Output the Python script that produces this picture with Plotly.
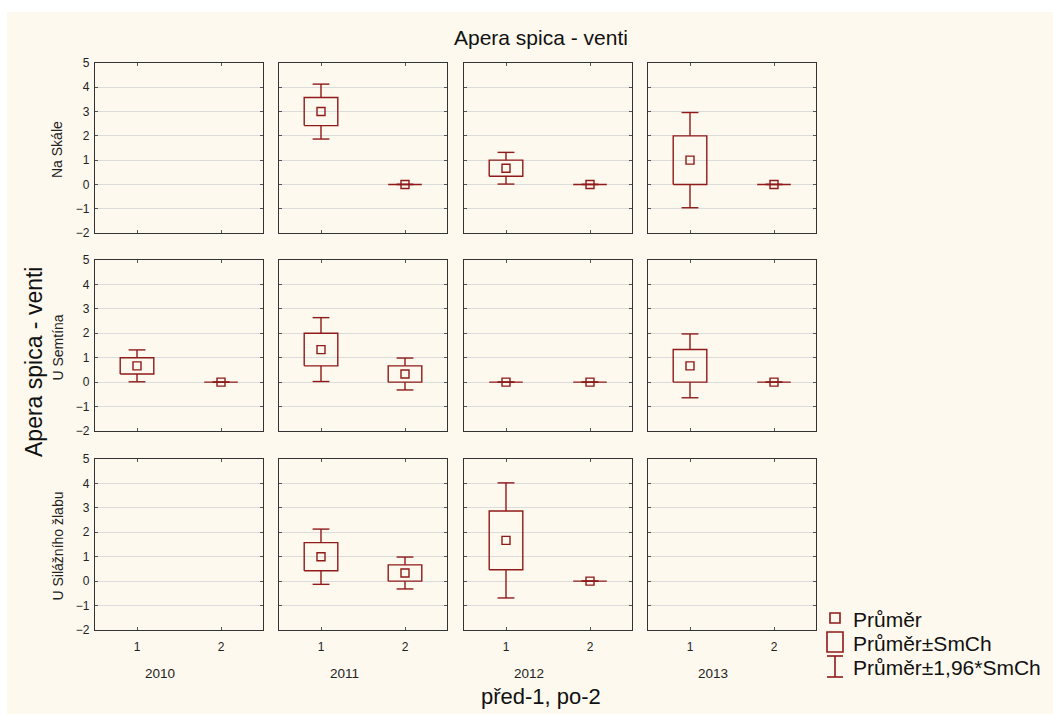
import plotly.graph_objects as go

# Group means and standard errors (SmCh) for each site, year and before/after (1/2)
sites = ["Na Skále", "U Semtína", "U Silážního žlabu"]
years = ["2010", "2011", "2012", "2013"]
periods = [1, 2]
period_labels = ["1", "2"]
y_ticks = [-2, -1, 0, 1, 2, 3, 4, 5]

mean_na_skale = [[None, None], [3.0, 0.0], [0.667, 0.0], [1.0, 0.0]]
se_na_skale = [[None, None], [0.577, 0.0], [0.333, 0.0], [1.0, 0.0]]

mean_u_semtina = [[0.667, 0.0], [1.333, 0.333], [0.0, 0.0], [0.667, 0.0]]
se_u_semtina = [[0.333, 0.0], [0.667, 0.333], [0.0, 0.0], [0.667, 0.0]]

mean_u_silazniho = [[None, None], [1.0, 0.333], [1.667, 0.0], [None, None]]
se_u_silazniho = [[None, None], [0.577, 0.333], [1.202, 0.0], [None, None]]

means = [mean_na_skale, mean_u_semtina, mean_u_silazniho]
ses = [se_na_skale, se_u_semtina, se_u_silazniho]

W, H = 1053, 714
RED = "#8E1A1A"
BG = "#FEF9EE"
FONT = "Liberation Sans, Arial, sans-serif"
TICK_SIZE = 12

# panel edges in pixels
col_px = [(95, 263), (279, 447), (464, 632), (648, 816)]
row_px = [(63, 233), (260, 431), (459, 630)]


def px_x(x):
    return x / W


def px_y(y):
    return 1 - y / H


fig = go.Figure()
layout = dict(
    width=W, height=H,
    margin=dict(l=0, r=0, t=0, b=0, autoexpand=False),
    paper_bgcolor="white",
    plot_bgcolor="white",
    showlegend=False,
    font=dict(family=FONT, color="#222", size=TICK_SIZE),
)

box_hw = 0.2
cap_hw = 0.1

k = 0
for r, site in enumerate(sites):
    for c, year in enumerate(years):
        k += 1
        xa = "x" if k == 1 else f"x{k}"
        ya = "y" if k == 1 else f"y{k}"
        xkey = "xaxis" if k == 1 else f"xaxis{k}"
        ykey = "yaxis" if k == 1 else f"yaxis{k}"
        x0, x1 = col_px[c]
        y0, y1 = row_px[r]
        layout[xkey] = dict(
            domain=[px_x(x0), px_x(x1)], anchor=ya,
            range=[0.5, 2.5], tickvals=periods, ticktext=period_labels,
            showticklabels=(r == len(sites) - 1), ticklabelstandoff=5,
            ticks="inside", ticklen=3, tickcolor="#555", tickwidth=1,
            showline=True, linecolor="#333", linewidth=1.3, mirror="allticks",
            showgrid=False, zeroline=False,
            tickfont=dict(size=TICK_SIZE, family=FONT, color="#222"),
            fixedrange=True,
        )
        layout[ykey] = dict(
            domain=[px_y(y1), px_y(y0)], anchor=xa,
            range=[-2, 5], tickvals=y_ticks,
            showticklabels=(c == 0), ticklabelstandoff=2,
            ticks="inside", ticklen=3, tickcolor="#555", tickwidth=1,
            showline=True, linecolor="#333", linewidth=1.3, mirror="allticks",
            showgrid=True, gridcolor="#DCDCDC", gridwidth=1, zeroline=False,
            tickfont=dict(size=TICK_SIZE, family=FONT, color="#222"),
            fixedrange=True,
        )
        # keeps the panel frame visible even when it has no data
        fig.add_trace(go.Scatter(x=[None], y=[None], mode="markers",
                                 xaxis=xa, yaxis=ya, hoverinfo="skip"))
        for p, xp in enumerate(periods):
            m = means[r][c][p]
            s = ses[r][c][p]
            if m is None:
                continue
            lo, hi = m - s, m + s
            wlo, whi = m - 1.96 * s, m + 1.96 * s
            # whiskers with caps (mean ± 1.96*SmCh)
            fig.add_trace(go.Scatter(
                x=[xp, xp, None, xp - cap_hw, xp + cap_hw, None,
                   xp, xp, None, xp - cap_hw, xp + cap_hw],
                y=[hi, whi, None, whi, whi, None,
                   lo, wlo, None, wlo, wlo],
                mode="lines", line=dict(color=RED, width=1.4),
                xaxis=xa, yaxis=ya, hoverinfo="skip",
            ))
            # box (mean ± SmCh)
            fig.add_trace(go.Scatter(
                x=[xp - box_hw, xp + box_hw, xp + box_hw, xp - box_hw, xp - box_hw],
                y=[lo, lo, hi, hi, lo],
                mode="lines", line=dict(color=RED, width=1.4),
                xaxis=xa, yaxis=ya, hoverinfo="skip",
            ))
            # mean
            fig.add_trace(go.Scatter(
                x=[xp], y=[m], mode="markers",
                marker=dict(symbol="square-open", size=8, color=RED,
                            line=dict(width=1.4, color=RED)),
                xaxis=xa, yaxis=ya, hoverinfo="skip",
            ))

annotations = []
shapes = []


def label(text, x, y, size, color="#222", angle=0, xanchor="center"):
    annotations.append(dict(text=text, x=px_x(x), y=px_y(y),
                            xref="paper", yref="paper", showarrow=False,
                            xanchor=xanchor, yanchor="middle", textangle=angle,
                            font=dict(size=size, family=FONT, color=color)))


# cream chart area
shapes.append(dict(type="rect", xref="paper", yref="paper",
                   x0=px_x(7), x1=1.0, y0=0.0, y1=px_y(12),
                   fillcolor=BG, line=dict(width=0), layer="below"))

# titles
label("Apera spica - venti", 541, 37, 21, "#111")
label("před-1, po-2", 541, 696, 22, "#111")
label("Apera spica - venti", 34, 362, 23, "#111", angle=-90)

# site labels
for r, site in enumerate(sites):
    yc = (row_px[r][0] + row_px[r][1]) / 2
    label(site, 57, yc + 2, 14, angle=-90)

# year labels, set slightly left of each panel's centre
for c, year in enumerate(years):
    xc = (col_px[c][0] + col_px[c][1]) / 2
    label(year, xc - 19, 673, 13.5)

# legend
legend_items = ["Průměr", "Průměr±SmCh", "Průměr±1,96*SmCh"]
legend_y = [619, 643, 667]
for txt, yy in zip(legend_items, legend_y):
    label(txt, 851, yy, 21, "#111", xanchor="left")
lx = 835
shapes.append(dict(type="rect", xref="paper", yref="paper",
                   x0=px_x(lx - 5), x1=px_x(lx + 5), y0=px_y(623), y1=px_y(613),
                   line=dict(color=RED, width=1.6)))
shapes.append(dict(type="rect", xref="paper", yref="paper",
                   x0=px_x(lx - 8), x1=px_x(lx + 8), y0=px_y(652), y1=px_y(632),
                   line=dict(color=RED, width=1.6)))
for seg in [(lx, 656, lx, 677), (lx - 8, 656, lx + 8, 656), (lx - 8, 677, lx + 8, 677)]:
    shapes.append(dict(type="line", xref="paper", yref="paper",
                       x0=px_x(seg[0]), y0=px_y(seg[1]),
                       x1=px_x(seg[2]), y1=px_y(seg[3]),
                       line=dict(color=RED, width=1.6)))

layout["annotations"] = annotations
layout["shapes"] = shapes
fig.update_layout(**layout)
fig.write_html("out.html")
